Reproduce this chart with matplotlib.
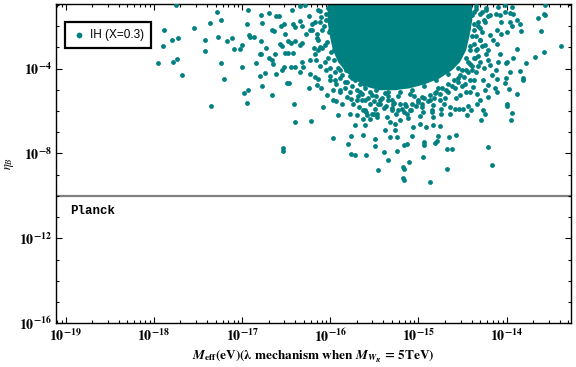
import numpy as np
import matplotlib
matplotlib.use("Agg")
import matplotlib.pyplot as plt
from matplotlib.ticker import FixedLocator, FuncFormatter, NullFormatter

plt.rcParams['mathtext.fontset'] = 'stix'

# ---- data (log10 values) ----
# sparse points to the left of the main cloud
left_logM = [-17.75, -17.29, -16.93, -17.36, -17.24, -17.89, -17.54, -16.95, -17.90, -17.80,
             -17.73, -17.42, -17.27, -17.42, -17.17, -17.12, -17.00, -17.09, -17.02, -16.92,
             -16.91, -16.87, -17.95, -17.78, -17.74, -17.68, -17.24, -17.00, -17.21, -16.84,
             -16.80, -16.74, -16.98, -16.93, -16.94, -17.35, -16.77, -16.66, -16.41, -16.40,
             -16.54, -16.54, -16.49, -16.47]
left_logEta = [-1.00, -1.33, -1.26, -1.85, -1.69, -2.16, -2.11, -1.92, -2.92, -2.63,
               -2.58, -2.63, -2.49, -3.15, -2.68, -2.58, -2.90, -3.08, -3.10, -2.40,
               -2.51, -2.49, -3.76, -3.67, -3.55, -4.28, -3.72, -3.91, -4.49, -3.76,
               -4.33, -4.19, -5.13, -4.99, -5.60, -5.76, -4.82, -5.23, -5.65, -6.50,
               -7.75, -7.89, -4.66, -4.66]

# halo around the left side of the cloud
halo_logM = [-16.78, -16.69, -16.61, -16.58, -16.77, -16.66, -16.64, -16.79, -16.73, -16.80,
             -16.78, -16.69, -16.63, -16.66, -16.65, -16.62, -16.56, -16.53, -16.51, -16.42,
             -16.40, -16.34, -16.32, -16.43, -16.34, -16.29, -16.24, -16.12, -16.11, -16.48,
             -16.57, -16.55, -16.51, -16.48, -16.42, -16.34, -16.32, -16.44, -16.40, -16.27,
             -16.23, -16.21, -16.17, -16.15, -16.15, -16.53, -16.55, -16.44, -16.40, -16.32,
             -16.31, -16.34, -16.23, -16.17, -16.12, -16.24, -16.15, -16.10, -16.04, -15.93,
             -16.08, -15.91, -16.17, -16.14, -16.00, -15.95, -15.97, -15.89, -15.81, -15.74,
             -15.68, -15.78, -15.70, -15.63, -15.59, -15.47, -15.63,
             -16.09, -16.06, -16.03, -16.00, -15.95, -16.06, -16.14, -15.89, -15.83, -15.98, -16.05,
             -16.14, -16.21, -16.14, -16.18, -16.05, -16.12, -16.00, -15.94, -15.89, -16.23]
halo_logEta = [-1.49, -1.38, -1.53, -1.52, -1.85, -2.19, -2.25, -2.70, -3.01, -3.33,
               -3.33, -3.48, -3.29, -3.61, -3.80, -4.24, -2.00, -1.91, -2.35, -1.88,
               -2.04, -1.75, -2.00, -1.22, -1.06, -1.01, -1.53, -1.30, -1.57, -2.70,
               -2.82, -2.95, -3.26, -3.26, -3.26, -2.90, -2.79, -2.79, -2.71, -2.35,
               -2.19, -1.91, -1.80, -2.35, -2.58, -3.92, -4.08, -3.92, -3.92, -3.69,
               -3.92, -4.16, -3.61, -3.29, -2.98, -4.90, -4.79, -4.90, -5.26, -5.53,
               -5.81, -6.17, -4.40, -4.47, -4.55, -4.55, -5.02, -5.02, -5.34, -5.65,
               -5.81, -6.12, -6.20, -5.97, -6.05, -6.12, -6.36,
               -2.19, -2.90, -3.51, -3.99, -4.17, -3.70, -3.14, -4.46, -4.65, -1.96, -1.72,
               -1.25, -2.19, -2.66, -3.04, -4.08, -3.89, -4.36, -4.74, -5.12, -4.27]

# ragged band of points hugging the edge of the saturated core
band_logM = [-16.03, -16.05, -16.00, -16.07, -16.01, -15.97, -16.04, -15.95, -15.99, -15.91,
             -15.96, -15.87, -15.91, -15.82, -15.87, -15.78, -15.81, -15.72, -15.75, -15.66,
             -15.70, -15.61, -15.64, -15.55, -15.57, -15.48, -15.50, -15.41, -15.44, -15.35,
             -15.37, -15.28, -15.30, -15.21, -15.23, -15.14, -15.16, -15.07, -15.10, -15.01,
             -15.03, -14.94, -14.96, -14.87, -14.89, -14.80, -14.82, -14.73, -14.76, -14.67,
             -14.69, -14.60, -14.62, -14.53, -14.55, -14.46, -14.48, -14.42, -14.44, -14.37,
             -14.39, -14.35, -14.33, -14.37, -14.30, -14.35, -14.28, -14.33, -14.26, -14.30,
             -14.23, -14.35,
             -15.89, -15.75, -15.62, -15.48, -15.35, -15.21, -15.07, -14.94, -14.80, -14.67,
             -14.55, -14.46, -14.42, -14.39, -14.37, -14.37, -16.00, -15.96, -15.91, -16.12,
             -16.09, -16.16,
             -14.21, -14.28, -14.23, -14.30, -14.35, -14.26,
             -15.83, -15.69, -15.55, -15.39, -15.25, -15.12, -14.98, -14.85, -14.71, -14.57,
             -14.46, -14.37, -15.78, -15.64, -15.35, -15.05, -14.78, -14.51]
band_logEta = [-1.16, -1.44, -1.72, -2.00, -2.29, -2.57, -2.76, -2.95, -3.23, -3.37,
               -3.61, -3.70, -3.99, -4.08, -4.32, -4.36, -4.65, -4.55, -4.83, -4.74,
               -5.02, -4.93, -5.21, -5.12, -5.40, -5.31, -5.54, -5.40, -5.68, -5.50,
               -5.78, -5.64, -5.87, -5.68, -5.97, -5.78, -6.06, -5.68, -5.97, -5.50,
               -5.78, -5.40, -5.68, -5.26, -5.54, -5.12, -5.40, -4.93, -5.21, -4.74,
               -5.02, -4.55, -4.83, -4.32, -4.65, -4.08, -4.41, -3.80, -4.17, -3.51,
               -3.89, -3.14, -3.42, -2.85, -2.66, -2.48, -2.29, -2.00, -1.72, -1.44,
               -1.16, -1.06,
               -4.08, -4.46, -4.74, -5.02, -5.12, -5.12, -5.02, -4.83, -4.55, -4.27,
               -3.99, -3.51, -2.95, -2.48, -1.91, -1.34, -2.19, -3.14, -1.53, -1.82,
               -3.04, -3.61,
               -1.53, -2.95, -3.33, -3.70, -4.17, -3.99,
               -4.93, -5.31, -5.68, -5.87, -6.16, -6.34, -6.25, -6.06, -5.68, -5.40,
               -5.12, -4.55, -5.12, -5.50, -5.31, -5.31, -4.93, -4.83]

# tail of points below the cloud
tail_logM = [-16.22, -15.97, -15.77, -15.80, -15.77, -15.72, -15.60, -15.63, -15.49, -15.49,
             -15.46, -15.39, -15.34, -15.32, -15.24, -15.24, -15.18, -15.16, -15.18, -15.16,
             -15.11, -15.16, -15.13, -15.07, -14.95, -14.94, -14.94, -14.87, -14.81, -14.79,
             -14.78, -14.68, -14.68, -14.62, -14.65, -14.58, -14.21, -14.17, -14.29,
             -15.76, -15.70, -15.61, -15.58, -15.55, -15.53, -15.32, -15.27, -15.21,
             -15.06, -14.98, -14.91, -14.83, -14.76, -14.45, -14.40, -14.34, -15.38, -15.27,
             -15.61, -15.72, -15.97, -15.87,
             -15.66, -15.53, -15.38, -15.23, -15.10, -14.96, -14.81, -14.70, -15.61, -15.30,
             -15.00, -14.87, -15.46, -15.15,
             -14.64, -14.64, -14.76, -14.74, -14.75, -14.83, -14.85, -14.83, -14.96, -14.95,
             -15.08, -15.13, -15.19, -15.29, -15.30, -15.36, -15.44, -15.49, -15.51, -15.47,
             -14.44, -14.49, -14.54, -14.59]
tail_logEta = [-6.49, -7.29, -7.16, -7.57, -8.01, -8.09, -8.06, -7.15, -7.30, -7.63,
               -8.76, -7.93, -8.29, -7.24, -7.21, -7.87, -8.64, -8.72, -9.14, -9.24,
               -8.41, -7.58, -7.54, -7.18, -8.15, -7.62, -7.46, -9.33, -7.52, -7.42,
               -7.19, -7.77, -8.72, -7.77, -7.23, -7.15, -7.68, -8.53, -6.44,
               -5.42, -5.50, -5.97, -6.20, -6.36, -6.12, -6.52, -6.63, -6.44,
               -6.75, -6.59, -6.75, -6.67, -6.72, -6.20, -5.97, -5.65, -6.91, -6.91,
               -6.67, -6.67, -5.50, -5.65,
               -5.12, -5.26, -5.17, -5.31, -5.21, -5.35, -5.17, -5.40, -5.50, -5.50,
               -5.59, -5.50, -5.68, -5.68,
               -5.81, -6.12, -5.50, -5.89, -6.12, -5.73, -5.97, -6.28, -5.81, -6.05,
               -5.97, -6.12, -5.89, -5.65, -5.97, -6.28, -5.50, -5.89, -6.12, -6.28,
               -5.76, -5.89, -5.89, -5.89]

# points on the right of the cloud
right_logM = [-13.95, -13.94, -14.00, -14.00, -13.88, -13.97, -13.82, -13.81, -13.85, -13.96,
              -14.01, -14.01, -13.78, -13.88, -13.68, -13.58, -13.38, -13.61, -13.58, -13.57,
              -13.64, -13.56, -13.96, -13.94, -13.84, -13.85, -13.88,
              -14.35, -14.28, -14.23, -14.19, -14.12, -14.08, -14.02, -13.93, -14.10, -14.02,
              -14.06, -13.96, -13.94, -14.11, -14.06, -14.00, -14.15, -14.11, -14.19, -14.25,
              -14.21, -14.30, -14.34, -14.08, -14.10, -14.00, -13.93, -14.02, -14.12, -14.11,
              -14.19, -14.17, -14.21, -14.13, -14.11, -14.27, -14.25, -14.21, -14.30, -14.38,
              -14.34, -14.42, -14.27, -14.25,
              -14.47, -14.42, -14.44, -14.36, -14.51, -14.39, -14.55, -14.47, -14.32, -14.37,
              -14.32, -14.44, -14.39, -14.30, -14.25, -14.21, -14.59, -14.67, -14.53, -14.42]
right_logEta = [-6.41, -6.08, -5.78, -5.68, -5.18, -4.96, -4.55, -4.44, -4.13, -4.17,
                -4.44, -3.72, -3.76, -3.10, -3.45, -3.20, -2.95, -2.25, -1.41, -1.47,
                -1.63, -1.00, -1.38, -1.09, -2.23, -1.92, -1.72,
                -1.17, -1.33, -1.25, -1.49, -1.44, -1.49, -1.33, -1.41, -1.09, -1.01,
                -1.80, -1.80, -2.00, -2.19, -2.35, -2.27, -2.67, -2.82, -2.43, -2.90,
                -3.14, -2.67, -3.06, -3.29, -3.69, -3.69, -3.48, -4.68, -4.05, -4.47,
                -3.84, -4.32, -4.79, -4.90, -5.10, -4.55, -5.02, -5.34, -5.50, -4.87,
                -5.18, -4.55, -5.97, -6.12,
                -2.67, -3.14, -3.70, -3.51, -4.08, -4.08, -4.46, -4.74, -3.89, -2.19,
                -1.82, -2.10, -1.49, -2.10, -1.82, -3.61, -4.93, -5.12, -5.26, -5.12]

# outline of the saturated core of the cloud
core_logM = [-16.03, -14.39, -14.39, -14.42, -14.46, -14.53, -14.62, -14.76, -14.93, -15.10,
             -15.27, -15.44, -15.57, -15.71, -15.82, -15.91, -15.97, -16.00, -16.03]
core_logEta = [-0.5, -0.5, -1.72, -2.43, -3.14, -3.70, -4.08, -4.46, -4.74, -4.93,
               -5.02, -5.02, -4.88, -4.55, -4.17, -3.70, -3.14, -2.57, -1.82]

planck_eta = 1e-10
legend_label = "IH (X=0.3)"
x_major = [1e-19, 1e-18, 1e-17, 1e-16, 1e-15, 1e-14]
y_major = [1e-16, 1e-12, 1e-8, 1e-4]

color = '#008080'

fig = plt.figure(figsize=(5.76, 3.67), dpi=100)
ax = fig.add_axes([0.0972, 0.1191, 0.8941, 0.8692])

ax.set_xscale('log')
ax.set_yscale('log')
ax.set_xlim(7.76e-20, 5.36e-14)
ax.set_ylim(1e-16, 1.07e-1)

ax.fill(10 ** np.array(core_logM), 10 ** np.array(core_logEta), color=color, lw=0, zorder=2)

allM = np.concatenate([left_logM, halo_logM, band_logM, tail_logM, right_logM])
allE = np.concatenate([left_logEta, halo_logEta, band_logEta, tail_logEta, right_logEta])
ax.scatter(10 ** allM, 10 ** allE, s=12, color=color, lw=0, zorder=3, label=legend_label)

ax.axhline(planck_eta, color='#808080', lw=1.6, zorder=1)
ax.text(0.027, 0.352, "Planck", transform=ax.transAxes, family='Liberation Mono',
        fontweight='bold', fontsize=9, va='center', ha='left')

# ticks
ax.xaxis.set_major_locator(FixedLocator(x_major))
xminor = [m * 10.0 ** e for e in range(-20, -13) for m in range(2, 10)]
ax.xaxis.set_minor_locator(FixedLocator(xminor))
ax.yaxis.set_major_locator(FixedLocator(y_major))
ax.yaxis.set_minor_locator(FixedLocator([10.0 ** e for e in range(-16, 0)]))
ax.xaxis.set_minor_formatter(NullFormatter())
ax.yaxis.set_minor_formatter(NullFormatter())

def fmt(v, pos):
    e = int(round(np.log10(v)))
    return r"$\mathbf{10^{%d}}$" % e

ax.xaxis.set_major_formatter(FuncFormatter(fmt))
ax.yaxis.set_major_formatter(FuncFormatter(fmt))
ax.tick_params(which='both', direction='in', top=True, right=True, labelsize=10, width=0.8)
ax.tick_params(which='major', length=4.5, pad=3)
ax.tick_params(which='minor', length=2.5)
for s in ax.spines.values():
    s.set_linewidth(1.0)

ax.set_xlabel(r"$\mathbfit{M}_{\mathbf{eff}}$(eV)(λ mechanism when $\mathbfit{M}_{\mathbfit{W}_{\mathbfit{R}}}$ = 5TeV)",
              family='STIXGeneral', fontweight='bold', fontsize=9.5, labelpad=3)
ax.set_ylabel(r"$\eta_B$", fontsize=9, labelpad=2)

leg = ax.legend(loc='upper left', bbox_to_anchor=(0.0175, 0.944), borderaxespad=0,
                fancybox=False, edgecolor='black', framealpha=1,
                prop={'family': 'Liberation Sans', 'size': 8.5},
                handletextpad=0.3, handlelength=1.2, borderpad=0.6, markerscale=1.2)
leg.get_frame().set_linewidth(1.6)

fig.savefig("out.png", dpi=100)
